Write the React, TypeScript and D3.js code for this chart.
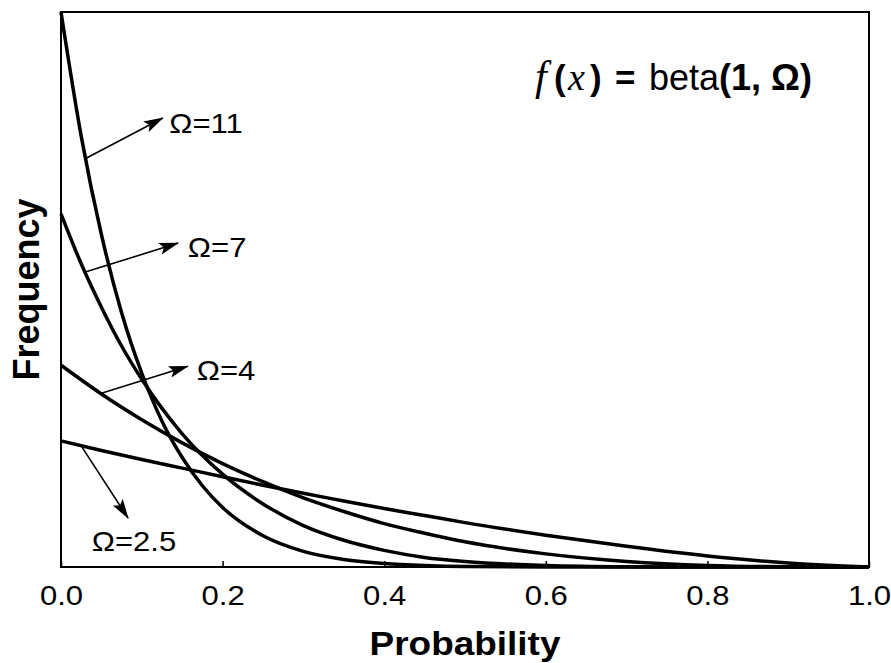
import React, { useEffect, useRef } from "react";
import * as d3 from "d3";

// ---- data ----
const xTicks = [0, 0.2, 0.4, 0.6, 0.8, 1.0];

const omega11X = [0, 0.025, 0.05, 0.075, 0.1, 0.125, 0.15, 0.175, 0.2, 0.25, 0.3, 0.35, 0.4, 0.45, 0.5, 0.6, 0.7, 0.8, 0.9, 1.0];
const omega11Y = [11, 8.54, 6.59, 5.04, 3.84, 2.89, 2.17, 1.61, 1.18, 0.62, 0.31, 0.15, 0.07, 0.03, 0.01, 0, 0, 0, 0, 0];

const omega7X = [0, 0.025, 0.05, 0.075, 0.1, 0.15, 0.2, 0.25, 0.3, 0.35, 0.4, 0.45, 0.5, 0.6, 0.7, 0.8, 0.9, 1.0];
const omega7Y = [7, 6.01, 5.15, 4.38, 3.72, 2.64, 1.84, 1.25, 0.82, 0.53, 0.33, 0.19, 0.11, 0.03, 0.005, 0, 0, 0];

const omega4X = [0, 0.05, 0.1, 0.15, 0.2, 0.25, 0.3, 0.35, 0.4, 0.45, 0.5, 0.6, 0.7, 0.8, 0.9, 1.0];
const omega4Y = [4, 3.43, 2.92, 2.46, 2.05, 1.69, 1.37, 1.1, 0.86, 0.67, 0.5, 0.26, 0.11, 0.03, 0.004, 0];

const omega25X = [0, 0.05, 0.1, 0.15, 0.2, 0.25, 0.3, 0.35, 0.4, 0.45, 0.5, 0.6, 0.7, 0.8, 0.9, 1.0];
const omega25Y = [2.5, 2.31, 2.13, 1.96, 1.79, 1.62, 1.46, 1.31, 1.16, 1.02, 0.88, 0.63, 0.41, 0.22, 0.08, 0];

const seriesList = [
  { xs: omega11X, ys: omega11Y },
  { xs: omega7X, ys: omega7Y },
  { xs: omega4X, ys: omega4Y },
  { xs: omega25X, ys: omega25Y },
];

// annotations in data units: arrow from curve -> label
const labelTexts = ["Ω=11", "Ω=7", "Ω=4", "Ω=2.5"];
const arrowFrom = [[0.031, 8.1], [0.031, 5.85], [0.051, 3.45], [0.025, 2.4]];
const arrowTo = [[0.126, 8.9], [0.145, 6.42], [0.157, 3.98], [0.083, 0.97]];
const labelAt = [[0.134, 8.6], [0.157, 6.14], [0.168, 3.71], [0.038, 0.32]];

const W = 891;
const H = 663;
const STRETCH = 1.15; // text in the reference is a little wide

export default function App() {
  const svgRef = useRef<SVGSVGElement | null>(null);

  useEffect(() => {
    const m = { top: 12, right: 22, bottom: 96, left: 61 };
    const innerW = W - m.left - m.right;
    const innerH = H - m.top - m.bottom;
    const sans = "Liberation Sans, Arial, sans-serif";
    const serif = "Liberation Serif, Times New Roman, serif";

    const svg = d3.select(svgRef.current);
    svg.selectAll("*").remove();

    svg
      .append("defs")
      .append("marker")
      .attr("id", "arrowHead")
      .attr("markerUnits", "userSpaceOnUse")
      .attr("viewBox", "-22 -8 24 16")
      .attr("markerWidth", 24)
      .attr("markerHeight", 16)
      .attr("refX", 0)
      .attr("refY", 0)
      .attr("orient", "auto")
      .append("path")
      .attr("d", "M1,0 L-19,-6 L-15,0 L-19,6 Z")
      .attr("fill", "#000");

    const g = svg.append("g").attr("transform", `translate(${m.left},${m.top})`);

    const x = d3.scaleLinear().domain([0, 1]).range([0, innerW]);
    const y = d3.scaleLinear().domain([0, 11]).range([innerH, 0]);

    // x axis, ticks pointing inward
    const ax = g
      .append("g")
      .attr("transform", `translate(0,${innerH})`)
      .call(
        d3
          .axisBottom(x)
          .tickValues(xTicks)
          .tickSize(-6)
          .tickPadding(19)
          .tickFormat(d3.format(".1f"))
      );
    ax.select(".domain").remove();
    ax.selectAll("line").attr("stroke", "#000").attr("stroke-width", 1.5);
    ax.selectAll("text")
      .attr("fill", "#000")
      .attr("font-family", sans)
      .attr("font-size", 27)
      .attr("transform", `scale(${STRETCH},1)`);

    // curves
    const line = d3
      .line<[number, number]>()
      .x((d) => x(d[0]))
      .y((d) => y(d[1]))
      .curve(d3.curveMonotoneX);

    seriesList.forEach((s) => {
      const pts = s.xs.map((xv, i) => [xv, s.ys[i]] as [number, number]);
      g.append("path")
        .attr("d", line(pts))
        .attr("fill", "none")
        .attr("stroke", "#000")
        .attr("stroke-width", 3.5)
        .attr("stroke-linejoin", "round");
    });

    // frame
    g.append("rect")
      .attr("width", innerW)
      .attr("height", innerH)
      .attr("fill", "none")
      .attr("stroke", "#000")
      .attr("stroke-width", 2);

    // arrows + labels
    labelTexts.forEach((t, i) => {
      g.append("line")
        .attr("x1", x(arrowFrom[i][0]))
        .attr("y1", y(arrowFrom[i][1]))
        .attr("x2", x(arrowTo[i][0]))
        .attr("y2", y(arrowTo[i][1]))
        .attr("stroke", "#000")
        .attr("stroke-width", 1.6)
        .attr("marker-end", "url(#arrowHead)");
      g.append("g")
        .attr(
          "transform",
          `translate(${x(labelAt[i][0])},${y(labelAt[i][1])}) scale(${STRETCH},1)`
        )
        .append("text")
        .attr("font-family", sans)
        .attr("font-size", 27)
        .attr("fill", "#000")
        .text(t);
    });

    // formula
    const title = svg.append("text").attr("y", 90).attr("fill", "#000");
    title.append("tspan").attr("x", 535).attr("font-family", serif).attr("font-style", "italic").attr("font-size", 42).text("f");
    title.append("tspan").attr("x", 554).attr("font-family", sans).attr("font-weight", "bold").attr("font-size", 35).text("(");
    title.append("tspan").attr("x", 568).attr("font-family", serif).attr("font-style", "italic").attr("font-size", 38).text("x");
    title.append("tspan").attr("x", 590).attr("font-family", sans).attr("font-weight", "bold").attr("font-size", 35).text(")");
    title.append("tspan").attr("x", 615).attr("font-family", sans).attr("font-weight", "bold").attr("font-size", 35).text("=");
    title.append("tspan").attr("x", 649).attr("font-family", sans).attr("font-size", 36).text("beta");
    title.append("tspan").attr("font-family", sans).attr("font-weight", "bold").attr("font-size", 36).text("(1, Ω)");

    // axis titles
    svg
      .append("g")
      .attr("transform", `translate(${m.left + innerW / 2},655) scale(1.12,1)`)
      .append("text")
      .attr("text-anchor", "middle")
      .attr("font-family", sans)
      .attr("font-weight", "bold")
      .attr("font-size", 33)
      .attr("fill", "#000")
      .text("Probability");

    svg
      .append("text")
      .attr("transform", `translate(39,${m.top + innerH / 2}) rotate(-90)`)
      .attr("text-anchor", "middle")
      .attr("font-family", sans)
      .attr("font-weight", "bold")
      .attr("font-size", 36)
      .attr("fill", "#000")
      .text("Frequency");
  }, []);

  return (
    <svg
      ref={svgRef}
      width={W}
      height={H}
      style={{ position: "absolute", left: 0, top: 0, background: "#fff" }}
    />
  );
}
